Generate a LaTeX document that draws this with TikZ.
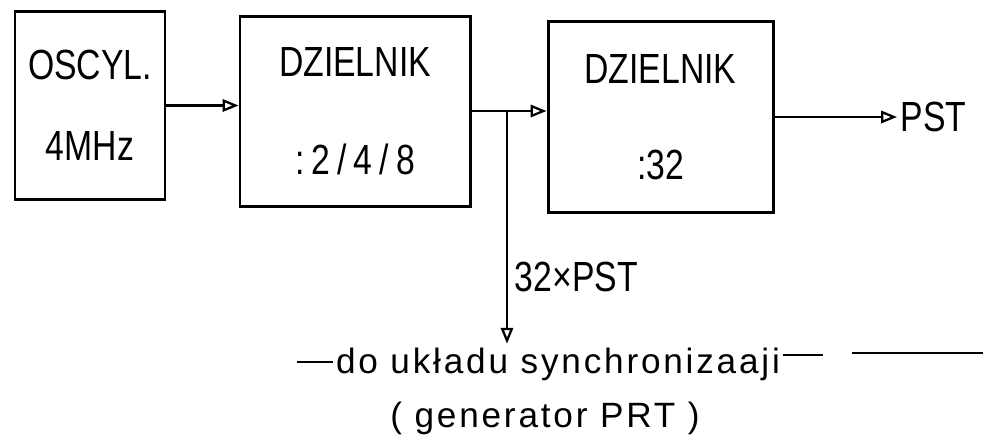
\documentclass[tikz,border=0pt]{standalone}
\usepackage{fontspec}
\setmainfont{Liberation Sans}
\newfontfamily\szablon{Liberation Sans}[FakeStretch=0.8]
\newfontfamily\opisfont{Liberation Sans}[LetterSpace=8]
\usetikzlibrary{positioning, arrows.meta}

\tikzset{
    blok/.style={draw, line width=1.7pt, align=center,
        font=\szablon\fontsize{24}{29}\selectfont},
    napis/.style={font=\szablon\fontsize{24}{29}\selectfont, inner sep=2pt},
    opis/.style={font=\opisfont\fontsize{20}{24}\selectfont, inner sep=2pt, anchor=base},
    linia/.style={line width=1.3pt, -{Triangle[open, length=9pt, width=7pt]}},
    kreska/.style={line width=0.8pt}
}

\begin{document}
\begin{tikzpicture}
    \useasboundingbox (0, 0) rectangle (19.66, -8.82);

    % Blocks
    \node[blok, minimum width=3cm, minimum height=3.76cm] (osc) at (1.80, -2.11) {OSCYL.\\[0.6cm]4MHz};
    \node[blok, minimum width=4.6cm, minimum height=3.8cm] (div1) at (7.10, -2.22) {DZIELNIK\\[0.95cm]:\,2\,/\,4\,/\,8};
    \node[blok, minimum width=4.5cm, minimum height=3.82cm] (div2) at (13.21, -2.34) {DZIELNIK\\[0.9cm]:32};

    % Labels
    \node[napis, right=2.45cm of div2] (pst) {PST};
    \node[napis, anchor=west] (x32) at (10.22, -5.54) {32×PST};
    \node[opis] (opis) at (11.16, -7.46) {do układu synchronizaaji};
    \node[opis] (gen) at (10.90, -8.54) {( generator PRT )};

    % Connections
    \coordinate (rozg) at (10.14, -2.22);
    \draw[linia] (osc.east) -- (osc.east -| div1.west);
    \draw[linia] (div1.east) -- (div1.east -| div2.west);
    \draw[linia] (div2.east) -- (pst.west);
    \draw[linia] (rozg) -- (rozg |- opis.north);

    % Lines by the lower text
    \draw[kreska] (5.94, -7.24) -- (6.66, -7.24);
    \draw[kreska] (15.66, -7.10) -- (16.46, -7.10);
    \draw[kreska] (17.04, -7.06) -- (19.66, -7.06);
\end{tikzpicture}
\end{document}
